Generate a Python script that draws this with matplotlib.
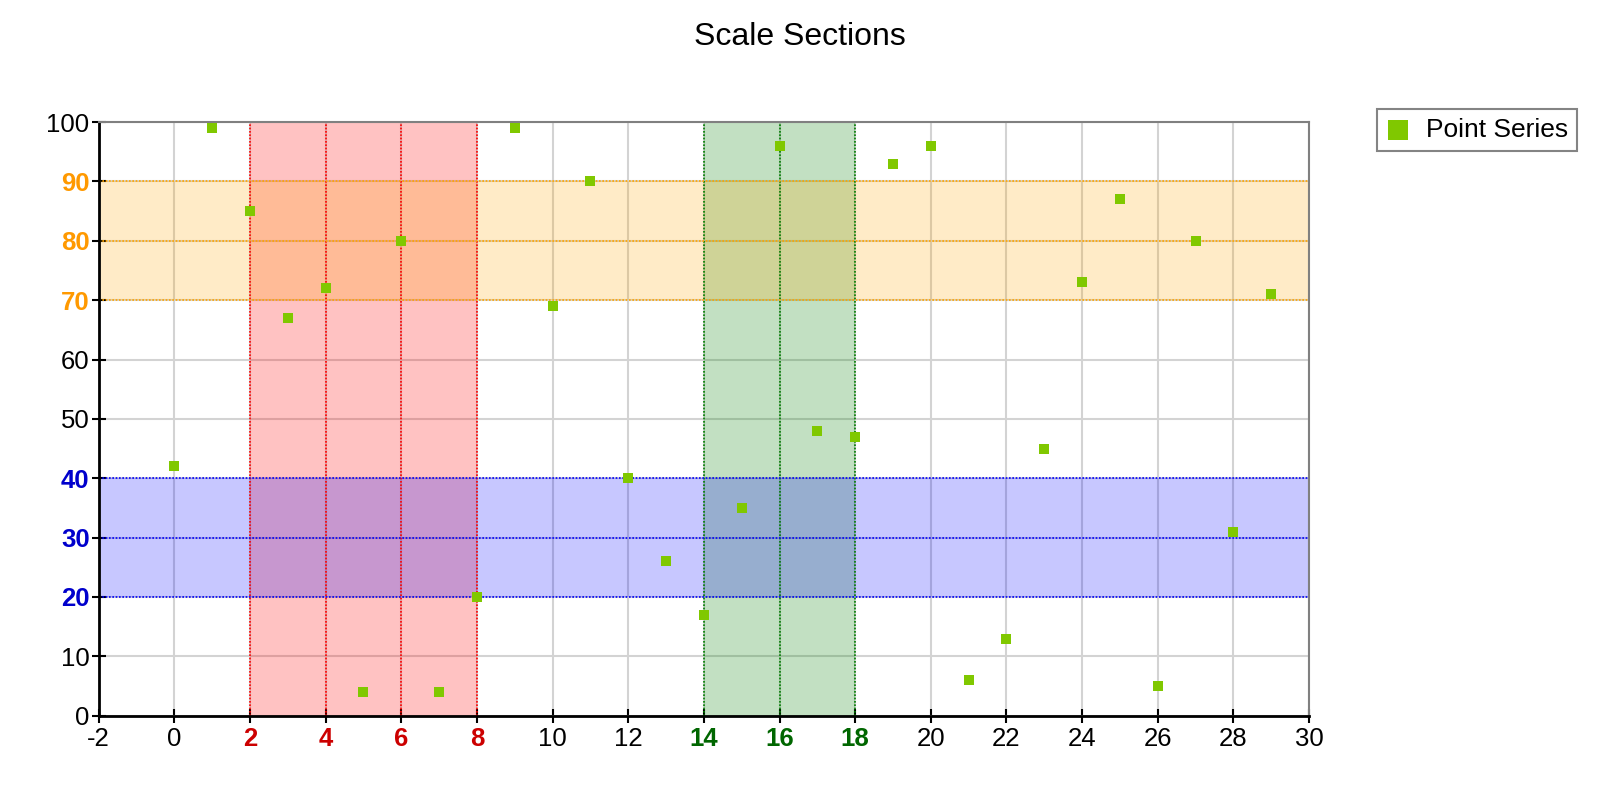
import matplotlib.pyplot as plt

plt.rcParams['font.family'] = ['Liberation Sans', 'DejaVu Sans']
plt.rcParams['axes.unicode_minus'] = False

# data
x_vals = list(range(30))
y_vals = [42, 99, 85, 67, 72, 4, 80, 4, 20, 99, 69, 90, 40, 26, 17, 35, 96, 48, 47, 93,
          96, 6, 13, 45, 73, 87, 5, 80, 31, 71]

# scale sections: (start, end, band colour, label colour)
x_sections = [(2, 8, '#FF0000', '#CC0000'), (14, 18, '#008000', '#006600')]
y_sections = [(70, 90, '#FFA500', '#FF9900'), (20, 40, '#0000FF', '#0000CC')]
x_ticks = list(range(-2, 31, 2))
y_ticks = list(range(0, 101, 10))

fig = plt.figure(figsize=(16, 8), dpi=100)
ax = fig.add_axes([0.0616, 0.1054, 0.7566, 0.742])
ax.set_xlim(-2, 30)
ax.set_ylim(0, 100)

ax.set_xticks(x_ticks)
ax.set_yticks(y_ticks)
ax.grid(True, color='#D3D3D3', linewidth=1.5, zorder=0)
ax.set_axisbelow(True)

# vertical bands first, horizontal bands on top
for lo, hi, col, lab in x_sections:
    ax.axvspan(lo, hi, color=col, alpha=0.24, lw=0, zorder=1)
for lo, hi, col, lab in y_sections:
    ax.axhspan(lo, hi, color=col, alpha=0.22, lw=0, zorder=1.1)

for lo, hi, col, lab in x_sections:
    for v in range(lo, hi + 1, 2):
        ax.axvline(v, color=col, ls=(0, (1, 1)), lw=1.2, zorder=2)
for lo, hi, col, lab in y_sections:
    for v in range(lo, hi + 1, 10):
        ax.axhline(v, color=col, ls=(0, (1, 1)), lw=1.2, zorder=2)

ax.scatter(x_vals, y_vals, marker='s', s=52, color='#80C800', lw=0, zorder=3,
           label='Point Series')

ax.tick_params(axis='both', labelsize=18.5, length=10, width=1.5,
               direction='inout', color='black')
ax.tick_params(axis='x', pad=3)
ax.tick_params(axis='y', pad=1.5)
for sp in ['left', 'bottom']:
    ax.spines[sp].set_color('black')
    ax.spines[sp].set_linewidth(2)
for sp in ['top', 'right']:
    ax.spines[sp].set_color('#808080')
    ax.spines[sp].set_linewidth(1.5)

# colour the section tick labels and ticks
for lab, tick, t in zip(ax.get_xticklabels(), ax.xaxis.get_major_ticks(), x_ticks):
    for lo, hi, col, tcol in x_sections:
        if lo <= t <= hi:
            lab.set_color(tcol)
            lab.set_fontweight('bold')
            tick.tick1line.set_color(tcol)
for lab, tick, t in zip(ax.get_yticklabels(), ax.yaxis.get_major_ticks(), y_ticks):
    for lo, hi, col, tcol in y_sections:
        if lo <= t <= hi:
            lab.set_color(tcol)
            lab.set_fontweight('bold')
            tick.tick1line.set_color(tcol)

fig.text(0.5, 0.954, 'Scale Sections', fontsize=23, ha='center', va='center')

leg = fig.legend(loc='upper left', bbox_to_anchor=(0.8606, 0.8638), borderaxespad=0,
                 fontsize=19, frameon=True, fancybox=False, edgecolor='#666666',
                 handletextpad=0.6, borderpad=0.35, markerscale=1.9, handlelength=0.9)
leg.get_frame().set_linewidth(1.5)

fig.savefig('out.png', dpi=100)
